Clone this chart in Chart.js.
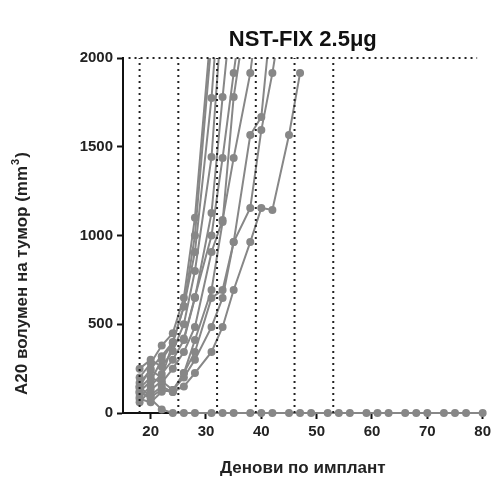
<!DOCTYPE html>
<html>
<head>
<meta charset="utf-8">
<script src="https://cdn.jsdelivr.net/npm/chart.js@4.4.1/dist/chart.umd.min.js"></script>
<style>
  html, body { margin: 0; padding: 0; background: #fff; }
  #wrap { width: 495px; height: 483px; }
</style>
</head>
<body>
<div id="wrap"><canvas id="chart"></canvas></div>
<script>
// Measurement days (days after implant)
const measureDays = [18, 20, 22, 24, 26, 28, 31, 33, 35, 38, 40, 42, 45, 47];

// Tumour volume per mouse (mm3)
const mouse1 = [150, 250, 320, 400, 600, 1000, 2100];
const mouse2 = [200, 280, 380, 450, 650, 1100, 2200];
const mouse3 = [120, 180, 300, 394, 600, 907, 1775, 2600];
const mouse4 = [250, 300, 260, 350, 500, 800, 1442, 2300];
const mouse5 = [90, 150, 220, 300, 411, 648, 1127, 1780, 2400];
const mouse6 = [170, 240, 200, 394, 420, 653, 1000, 1437, 1915, 2600];
const mouse7 = [60, 130, 180, 130, 225, 411, 693, 1076, 1780, 2400];
const mouse8 = [140, 200, 170, 250, 344, 485, 907, 1087, 1437, 1915, 2400];
const mouse9 = [110, 100, 150, 118, 225, 344, 648, 693, 963, 1566, 1668, 2300];
const mouse10 = [80, 60, 120, 130, 200, 300, 485, 648, 963, 1155, 1594, 1915, 2500];
const mouse11 = [150, 90, 130, 118, 150, 225, 344, 485, 693, 963, 1155, 1144, 1566, 1915];

// Mouse that rejected the tumour
const zeroDays = [18, 20, 22, 24, 26, 28, 31, 33, 35, 38, 40, 42, 45, 47, 49, 52, 54, 56, 59, 61, 63, 66, 68, 70, 73, 75, 77, 80];
const zeroMouse = [120, 80, 20, 0, 0, 0, 0, 0, 0, 0, 0, 0, 0, 0, 0, 0, 0, 0, 0, 0, 0, 0, 0, 0, 0, 0, 0, 0];

// Dotted reference lines
const weekLines = [18, 25, 32, 39, 46, 53];
const ceilingVolume = 2000;

const xTicks = [20, 30, 40, 50, 60, 70, 80];
const yTicks = [0, 500, 1000, 1500, 2000];

const gray = "#878787";
const font = "'Liberation Sans', Arial, sans-serif";

const growing = [mouse1, mouse2, mouse3, mouse4, mouse5, mouse6, mouse7, mouse8, mouse9, mouse10, mouse11];

function mouseSet(days, vols) {
  return {
    data: vols.map((v, i) => ({ x: days[i], y: v })),
    borderColor: gray,
    backgroundColor: gray,
    borderWidth: 2,
    pointRadius: 4,
    pointBorderWidth: 0,
    pointHoverRadius: 4,
    clip: { left: 6, right: 6, top: 0, bottom: 6 },
  };
}

function dottedSet(points) {
  return {
    data: points,
    borderColor: "#222",
    borderWidth: 2,
    borderDash: [2, 4],
    pointRadius: 0,
    clip: 4,
  };
}

const datasets = [];
weekLines.forEach(d => datasets.push(dottedSet([{ x: d, y: 0 }, { x: d, y: ceilingVolume }])));
datasets.push(dottedSet([{ x: 16, y: ceilingVolume }, { x: 79, y: ceilingVolume }]));
growing.forEach(m => datasets.push(mouseSet(measureDays, m)));
datasets.push(mouseSet(zeroDays, zeroMouse));

// Chart title over the plot area and the y axis title, drawn as text
const extraText = {
  id: "extraText",
  afterDraw(chart) {
    const { ctx, chartArea } = chart;
    ctx.save();
    ctx.font = "bold 22px " + font;
    ctx.fillStyle = "#111";
    ctx.textAlign = "center";
    ctx.textBaseline = "alphabetic";
    ctx.fillText("NST-FIX 2.5\u03bcg", (chartArea.left + chartArea.right) / 2, 46);

    // y title, rotated, reading bottom to top
    ctx.translate(22, 395);
    ctx.rotate(-Math.PI / 2);
    ctx.textAlign = "left";
    ctx.textBaseline = "middle";
    ctx.font = "bold 17px " + font;
    ctx.fillStyle = "#222";
    const main = "A20 волумен на тумор (mm";
    ctx.fillText(main, 0, 0);
    const w = ctx.measureText(main).width;
    ctx.font = "bold 11px " + font;
    ctx.fillText("3", w + 1, -6);
    const w3 = ctx.measureText("3").width;
    ctx.font = "bold 17px " + font;
    ctx.fillText(")", w + w3 + 2, 0);
    ctx.restore();
  },
};

new Chart(document.getElementById("chart"), {
  type: "line",
  data: { datasets },
  options: {
    responsive: true,
    maintainAspectRatio: false,
    animation: false,
    events: [],
    layout: { padding: { top: 58, right: 9, left: 0, bottom: 0 } },
    plugins: {
      legend: { display: false },
      tooltip: { enabled: false },
    },
    scales: {
      x: {
        type: "linear",
        min: 15,
        max: 80,
        afterFit: s => { s.height = 70; },
        afterBuildTicks: s => { s.ticks = xTicks.map(v => ({ value: v })); },
        border: { display: true, color: "#111", width: 2 },
        grid: { drawOnChartArea: false, drawTicks: true, tickLength: 6, tickColor: "#111", tickWidth: 2 },
        ticks: {
          color: "#222",
          font: { family: font, size: 15, weight: "bold" },
          padding: 4,
          callback: v => String(v),
        },
        title: {
          display: true,
          text: "Денови по имплант",
          color: "#222",
          font: { family: font, size: 17, weight: "bold" },
          padding: { top: 10, bottom: 4 },
        },
      },
      y: {
        min: 0,
        max: 2000,
        afterFit: s => { s.width = 123; },
        afterBuildTicks: s => { s.ticks = yTicks.map(v => ({ value: v })); },
        border: { display: true, color: "#111", width: 2 },
        grid: { drawOnChartArea: false, drawTicks: true, tickLength: 6, tickColor: "#111", tickWidth: 2 },
        ticks: {
          color: "#222",
          font: { family: font, size: 15, weight: "bold" },
          padding: 4,
          callback: v => String(v),
        },
      },
    },
  },
  plugins: [extraText],
});
</script>
</body>
</html>
